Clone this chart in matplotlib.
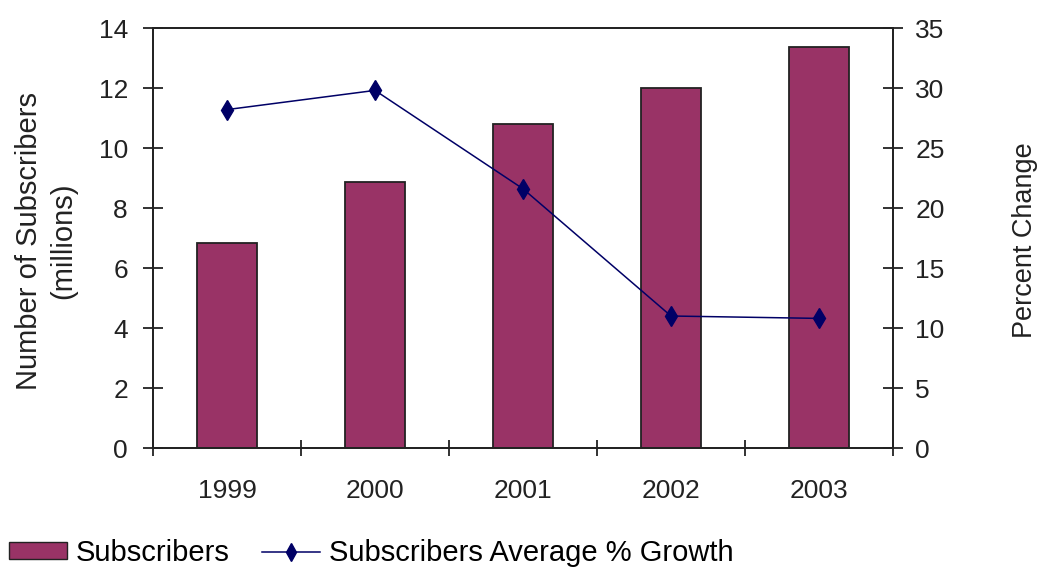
import matplotlib
matplotlib.use("Agg")
import matplotlib.pyplot as plt
from matplotlib.patches import Patch
from matplotlib.lines import Line2D

years = ["1999", "2000", "2001", "2002", "2003"]
subscribers = [6.83, 8.87, 10.8, 12.0, 13.37]
growth = [28.2, 29.8, 21.6, 11.0, 10.8]

plt.rcParams['font.family'] = ['Liberation Sans', 'DejaVu Sans']
bar_color = '#993366'
line_color = '#000066'
ink = '#222222'

W, H = 1044, 573
fig = plt.figure(figsize=(W / 100, H / 100), dpi=100)
ax = fig.add_axes([153 / W, (H - 448) / H, 740 / W, 420 / H])
x = list(range(len(years)))
ax.bar(x, subscribers, width=0.41, color=bar_color, edgecolor=ink, linewidth=1.3, zorder=2)
ax.set_xlim(-0.5, len(years) - 0.5)
ax.set_ylim(0, 14)
ax.set_yticks(range(0, 15, 2))
ax.set_xticks(x)
ax.set_xticklabels(years)
ax.set_xticks([i + 0.5 for i in range(-1, len(years))], minor=True)
ax.tick_params(axis='x', which='major', length=0, labelsize=19, pad=22, colors=ink)
ax.tick_params(axis='x', which='minor', length=12, width=1.3, direction='inout', color=ink)
ax.tick_params(axis='y', length=14, width=1.3, direction='inout', labelsize=19, pad=11,
               color=ink, labelcolor=ink)
for s in ax.spines.values():
    s.set_linewidth(1.3)
    s.set_color(ink)

ax2 = ax.twinx()
ax2.plot(x, growth, color=line_color, linewidth=1.1, marker='d', markersize=10,
         markerfacecolor=line_color, markeredgecolor=line_color, zorder=3)
ax2.set_ylim(0, 35)
ax2.set_yticks(range(0, 36, 5))
ax2.tick_params(axis='y', length=14, width=1.3, direction='inout', labelsize=19, pad=9,
                color=ink, labelcolor=ink)
for s in ax2.spines.values():
    s.set_linewidth(1.3)
    s.set_color(ink)

fig.text(46 / W, 1 - 241 / H, "Number of Subscribers\n(millions)", rotation=90,
         ha='center', va='center', multialignment='center', fontsize=21, color=ink,
         linespacing=1.3)
fig.text(1025 / W, 1 - 240 / H, "Percent Change", rotation=90, ha='center', va='center',
         fontsize=19.5, color=ink)

handles = [Patch(facecolor=bar_color, edgecolor=ink, linewidth=1.0),
           Line2D([], [], color=line_color, linewidth=1.1, marker='d', markersize=9,
                  markerfacecolor=line_color, markeredgecolor=line_color)]
fig.legend(handles, ["Subscribers", "Subscribers Average % Growth"], loc='center left',
           bbox_to_anchor=(9 / W, 1 - 553 / H), ncol=2, frameon=False, fontsize=21,
           handlelength=2.0, handleheight=0.5, columnspacing=1.1, handletextpad=0.3,
           borderaxespad=0, borderpad=0)

fig.savefig("out.png", dpi=100)
